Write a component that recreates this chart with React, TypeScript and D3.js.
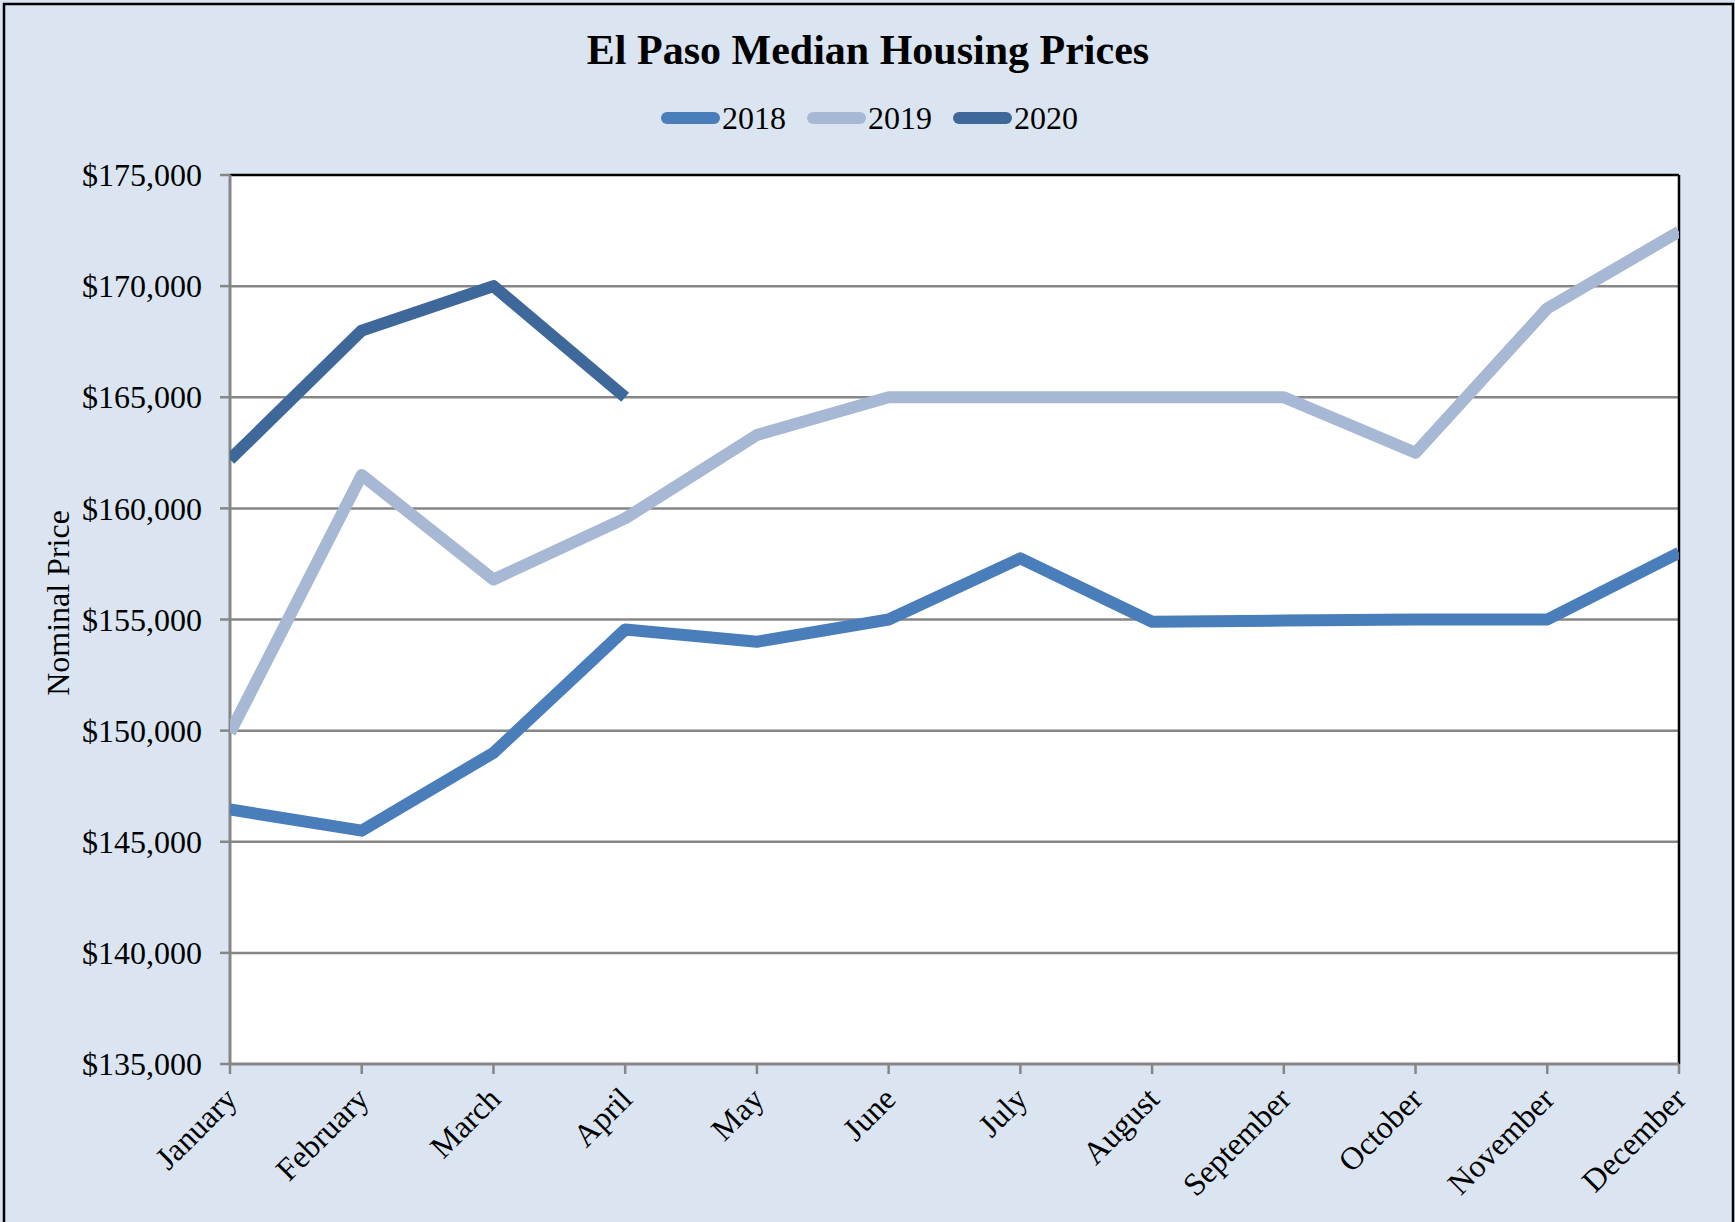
import React from 'react'
import * as d3 from 'd3'

const months = ['January','February','March','April','May','June','July','August','September','October','November','December']
const yTicks = [135000,140000,145000,150000,155000,160000,165000,170000,175000]
const s2018 = [146450,145500,149000,154550,154000,155000,157750,154900,154950,155000,155000,158000]
const s2019 = [149900,161500,156800,159550,163300,165000,165000,165000,165000,162500,169000,172450]
const s2020 = [162200,168000,170000,165000]

const series = [
  { name: '2018', values: s2018, color: '#4a7ebb' },
  { name: '2019', values: s2019, color: '#a6b8d4' },
  { name: '2020', values: s2020, color: '#3d6899' },
]

const W = 1735
const H = 1222
const m = { left: 230, right: 1679, top: 175, bottom: 1064 }
const font = '"Liberation Serif", "Times New Roman", serif'

const App = () => {
  const x = d3.scalePoint<string>().domain(months).range([m.left, m.right])
  const y = d3.scaleLinear().domain([135000,175000]).range([m.bottom, m.top])
  const line = d3.line<number>()
    .x((d,i) => x(months[i]) as number)
    .y(d => y(d))
  const fmt = (v: number) => '$' + d3.format(',')(v)

  return (
    <svg width={W} height={H} style={{ position: 'absolute', left: 0, top: 0 }} fontFamily={font}>
      <rect x={0} y={0} width={W} height={H} fill="#dbe5f1" />
      <rect x={4} y={4} width={W - 6} height={H + 20} fill="none" stroke="#000" strokeWidth={2.5} />
      <text x={868} y={64} textAnchor="middle" fontSize={42} fontWeight="bold">El Paso Median Housing Prices</text>

      {/* legend */}
      {series.map((s, i) => {
        const lx = [662, 808, 954][i]
        return (
          <g key={s.name}>
            <line x1={lx + 5} x2={lx + 52} y1={118} y2={118} stroke={s.color} strokeWidth={12} strokeLinecap="round" />
            <text x={lx + 60} y={118} dy="0.35em" fontSize={32}>{s.name}</text>
          </g>
        )
      })}

      <defs>
        <clipPath id="plot">
          <rect x={m.left} y={m.top - 10} width={m.right - m.left} height={m.bottom - m.top + 10} />
        </clipPath>
      </defs>
      <rect x={m.left} y={m.top} width={m.right - m.left} height={m.bottom - m.top} fill="#fff" />

      {/* grid + y ticks */}
      {yTicks.map(t => (
        <g key={t}>
          {t !== 135000 && t !== 175000 && (
            <line x1={m.left} x2={m.right} y1={y(t)} y2={y(t)} stroke="#868686" strokeWidth={2.5} />
          )}
          <line x1={m.left - 10} x2={m.left} y1={y(t)} y2={y(t)} stroke="#868686" strokeWidth={2.5} />
          <text x={m.left - 28} y={y(t)} dy="0.35em" textAnchor="end" fontSize={32}>{fmt(t)}</text>
        </g>
      ))}

      {/* plot border top/right */}
      <line x1={m.left} x2={m.right} y1={m.top} y2={m.top} stroke="#000" strokeWidth={2.5} />
      <line x1={m.right} x2={m.right} y1={m.top} y2={m.bottom} stroke="#000" strokeWidth={2.5} />

      {/* axes */}
      <line x1={m.left} x2={m.left} y1={m.top} y2={m.bottom} stroke="#868686" strokeWidth={3} />
      <line x1={m.left} x2={m.right} y1={m.bottom} y2={m.bottom} stroke="#868686" strokeWidth={3} />
      {months.map(mo => {
        const px = x(mo) as number
        return (
          <g key={mo}>
            <line x1={px} x2={px} y1={m.bottom} y2={m.bottom + 10} stroke="#868686" strokeWidth={2.5} />
            <text transform={`translate(${px + 1},${m.bottom + 29}) rotate(-45)`} textAnchor="end" dy="0.35em" fontSize={32}>{mo}</text>
          </g>
        )
      })}

      {/* series */}
      <g clipPath="url(#plot)">
        {series.map(s => (
          <path key={s.name} d={line(s.values) || ''} fill="none" stroke={s.color} strokeWidth={12} strokeLinejoin="round" />
        ))}
      </g>

      <text transform="translate(58,603) rotate(-90)" textAnchor="middle" dy="0.35em" fontSize={32}>Nominal Price</text>
    </svg>
  )
}

export default App
